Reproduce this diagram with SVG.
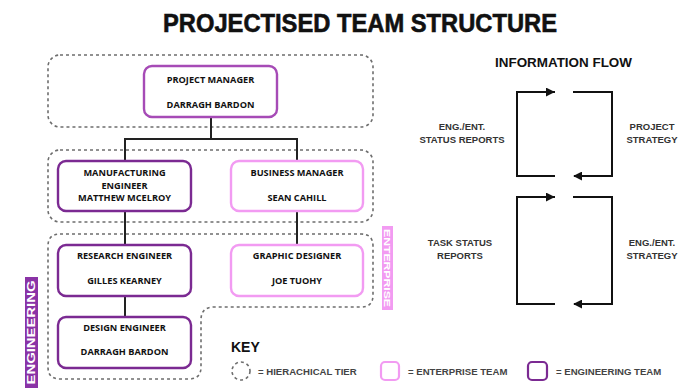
<svg xmlns="http://www.w3.org/2000/svg" width="692" height="390" viewBox="0 0 692 390">
<defs>
<style>
.tier{fill:none;stroke:#6e6e6e;stroke-width:1.6;stroke-dasharray:3 3}
.eng{fill:#fff;stroke:#7b2a92;stroke-width:2.4}
.ent{fill:#fff;stroke:#f29bf2;stroke-width:2.4}
.pm{fill:#fff;stroke:#a64bb6;stroke-width:2.4}
.nt{font-family:"Open Sans","Liberation Sans",sans-serif;font-weight:700;font-size:9.2px;fill:#111;text-anchor:middle}
.conn{fill:none;stroke:#222;stroke-width:2}
.flow{fill:none;stroke:#111;stroke-width:2}
.ft{font-family:"Liberation Sans",Arial,sans-serif;font-weight:700;font-size:9.5px;fill:#333;text-anchor:middle}
.kt{font-family:"Liberation Sans",Arial,sans-serif;font-weight:700;font-size:9.6px;fill:#444}
</style>
<marker id="ah" viewBox="0 0 10 10" refX="9" refY="5" markerWidth="4.5" markerHeight="4.5" orient="auto" markerUnits="strokeWidth">
<path d="M0,0 L10,5 L0,10 Z" fill="#111"/>
</marker>
</defs>
<rect width="692" height="390" fill="#fff"/>
<text x="360" y="32" text-anchor="middle" font-family="Liberation Sans,Arial,sans-serif" font-weight="900" font-size="25" textLength="394" lengthAdjust="spacingAndGlyphs" fill="#111" stroke="#111" stroke-width="0.6">PROJECTISED TEAM STRUCTURE</text>

<g id="tiers">
<rect class="tier" x="48" y="55" width="325" height="72" rx="12"/>
<rect class="tier" x="48" y="150" width="325" height="72" rx="12"/>
<path class="tier" d="M60 234 H361 Q373 234 373 246 V295 Q373 307 361 307 H214 Q201 307 201 320 V367 Q201 379 189 379 H60 Q48 379 48 367 V246 Q48 234 60 234 Z"/>
</g>

<g id="connectors">
<path class="conn" d="M211 117 V139 M125 161 V139 H297 V161"/>
<path class="conn" d="M125 211 V245 M297 211 V245 M125 296 V317"/>
</g>

<g id="project-manager">
<rect class="pm" x="144" y="66" width="133" height="51" rx="8"/>
<text class="nt" x="210.5" y="83">PROJECT MANAGER</text>
<text class="nt" x="210.5" y="108">DARRAGH BARDON</text>
</g>
<g id="manufacturing-engineer">
<rect class="eng" x="58" y="161" width="133" height="50" rx="8"/>
<text class="nt" x="124.5" y="176">MANUFACTURING</text>
<text class="nt" x="124.5" y="189">ENGINEER</text>
<text class="nt" x="124.5" y="201">MATTHEW MCELROY</text>
</g>
<g id="business-manager">
<rect class="ent" x="231" y="161" width="132" height="50" rx="8"/>
<text class="nt" x="297" y="176">BUSINESS MANAGER</text>
<text class="nt" x="297" y="201">SEAN CAHILL</text>
</g>
<g id="research-engineer">
<rect class="eng" x="58" y="245" width="133" height="51" rx="8"/>
<text class="nt" x="124.5" y="259">RESEARCH ENGINEER</text>
<text class="nt" x="124.5" y="284">GILLES KEARNEY</text>
</g>
<g id="graphic-designer">
<rect class="ent" x="231" y="245" width="132" height="51" rx="8"/>
<text class="nt" x="297" y="259">GRAPHIC DESIGNER</text>
<text class="nt" x="297" y="284">JOE TUOHY</text>
</g>
<g id="design-engineer">
<rect class="eng" x="58" y="317" width="133" height="51" rx="8"/>
<text class="nt" x="124.5" y="331">DESIGN ENGINEER</text>
<text class="nt" x="124.5" y="355">DARRAGH BARDON</text>
</g>

<g id="enterprise-label">
<rect x="382" y="226" width="11" height="84" fill="#f29bf2"/>
<text transform="translate(387.5 268) rotate(90)" text-anchor="middle" dy="3.3" font-family="Liberation Sans,Arial,sans-serif" font-weight="700" font-size="9.5" fill="#fff" textLength="78" lengthAdjust="spacingAndGlyphs">ENTERPRISE</text>
</g>
<g id="engineering-label">
<rect x="25" y="277" width="13" height="111" fill="#8a33a6"/>
<text transform="translate(31.5 332.5) rotate(-90)" text-anchor="middle" dy="3.5" font-family="Liberation Sans,Arial,sans-serif" font-weight="700" font-size="10" fill="#fff" textLength="104" lengthAdjust="spacingAndGlyphs">ENGINEERING</text>
</g>

<g id="information-flow">
<text x="563.5" y="67" text-anchor="middle" font-family="Liberation Sans,Arial,sans-serif" font-weight="700" font-size="12.5" fill="#111" textLength="137" lengthAdjust="spacingAndGlyphs">INFORMATION FLOW</text>
<path class="flow" d="M555 92 H517 V176 H555"/>
<path class="flow" d="M517 92 H554" marker-end="url(#ah)"/>
<path class="flow" d="M573 92 H612 V176 H574" marker-end="url(#ah)"/>
<path class="flow" d="M555 197 H517 V304 H555"/>
<path class="flow" d="M517 197 H554" marker-end="url(#ah)"/>
<path class="flow" d="M573 197 H612 V304 H574" marker-end="url(#ah)"/>
<text class="ft" x="462" y="130">ENG./ENT.</text>
<text class="ft" x="462" y="143">STATUS REPORTS</text>
<text class="ft" x="652" y="130">PROJECT</text>
<text class="ft" x="652" y="143">STRATEGY</text>
<text class="ft" x="460" y="246">TASK STATUS</text>
<text class="ft" x="460" y="259">REPORTS</text>
<text class="ft" x="652" y="246">ENG./ENT.</text>
<text class="ft" x="652" y="259">STRATEGY</text>
</g>

<g id="key">
<text x="231" y="352" font-family="Liberation Sans,Arial,sans-serif" font-weight="700" font-size="14" fill="#111">KEY</text>
<circle cx="241" cy="371" r="9" fill="none" stroke="#6e6e6e" stroke-width="1.6" stroke-dasharray="3 3"/>
<text class="kt" x="258" y="374.5">= HIERACHICAL TIER</text>
<rect x="381" y="362" width="18" height="18" rx="4" fill="#fff" stroke="#f29bf2" stroke-width="2.2"/>
<text class="kt" x="408" y="374.5">= ENTERPRISE TEAM</text>
<rect x="528" y="362" width="19" height="18" rx="4" fill="#fff" stroke="#7b2a92" stroke-width="2.2"/>
<text class="kt" x="556" y="374.5">= ENGINEERING TEAM</text>
</g>
</svg>
